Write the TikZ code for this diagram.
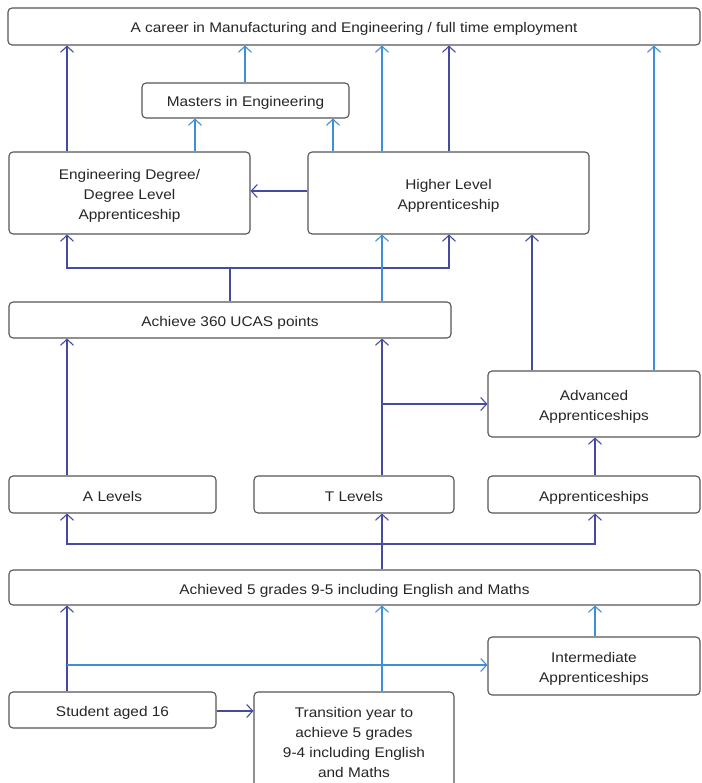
\documentclass[tikz,border=0pt]{standalone}
\usepackage{fontspec}
\setmainfont{Liberation Sans}[FakeStretch=1.1]
\usetikzlibrary{arrows.meta}
\definecolor{dkblue}{HTML}{454C9E}
\definecolor{ltblue}{HTML}{3F8ED8}
\definecolor{boxline}{HTML}{555555}
\definecolor{txt}{HTML}{262626}
\begin{document}
\begin{tikzpicture}[x=1pt,y=-1pt,
  box/.style={draw=boxline,line width=1.1pt,rounded corners=4pt,fill=white,
    inner sep=0pt,text=txt,
    font=\fontsize{14}{20}\selectfont},
  conn/.style={line width=1.1pt,-{Straight Barb[length=6pt,width=13pt,line width=1.1pt]}},
  dk/.style={conn,draw=dkblue},
  lt/.style={conn,draw=ltblue},
  dkl/.style={line width=1.1pt,draw=dkblue}]
\useasboundingbox (0,0) rectangle (701,783);
% boxes: name, centre x, centre y, width, height, text
\newcommand{\mkbox}[6]{\node[box,minimum width=#4pt,minimum height=#5pt] (#1) at (#2,#3)
  {\raisebox{-2.5pt}[\height][\depth]{\begin{tabular}{@{}c@{}}#6\end{tabular}}};}
\mkbox{career}{354}{26.5}{692}{37}{A career in Manufacturing and Engineering / full time employment}
\mkbox{masters}{245.5}{100.5}{207}{35}{Masters in Engineering}
\mkbox{eng}{129.5}{193}{241}{82}{Engineering Degree/\\Degree Level\\Apprenticeship}
\mkbox{higher}{448.5}{193}{281}{82}{Higher Level\\Apprenticeship}
\mkbox{ucas}{230}{320}{442}{36}{Achieve 360 UCAS points}
\mkbox{advanced}{594}{404}{212}{66}{Advanced\\Apprenticeships}
\mkbox{alevels}{112.5}{494.5}{207}{37}{A Levels}
\mkbox{tlevels}{354}{494.5}{200}{37}{T Levels}
\mkbox{appr}{594}{494.5}{212}{37}{Apprenticeships}
\mkbox{five}{354.5}{587.5}{691}{35}{Achieved 5 grades 9-5 including English and Maths}
\mkbox{inter}{594}{666}{212}{58}{Intermediate\\Apprenticeships}
\mkbox{student}{112.5}{710}{207}{36}{Student aged 16}
\mkbox{trans}{354}{741}{200}{98}{Transition year to\\achieve 5 grades\\9-4 including English\\and Maths}
% column / row coordinates
\coordinate (c67) at (67,0);
\coordinate (c195) at (195,0);
\coordinate (c230) at (230,0);
\coordinate (c245) at (245,0);
\coordinate (c333) at (333,0);
\coordinate (c382) at (382,0);
\coordinate (c449) at (449,0);
\coordinate (c532) at (532,0);
\coordinate (c595) at (595,0);
\coordinate (c654) at (654,0);
\coordinate (r191) at (0,191);
\coordinate (r268) at (0,268);
\coordinate (r404) at (0,404);
\coordinate (r544) at (0,544);
\coordinate (r665) at (0,665);
\coordinate (r711) at (0,711);
\coordinate (jA) at (c230 |- r268);
\coordinate (jB) at (c382 |- r544);
\coordinate (jC) at (c67 |- r665);
\coordinate (jD) at (c382 |- r404);
% to career
\draw[dk] (eng.north -| c67) -- (career.south -| c67);
\draw[lt] (masters.north -| c245) -- (career.south -| c245);
\draw[lt] (higher.north -| c382) -- (career.south -| c382);
\draw[dk] (higher.north -| c449) -- (career.south -| c449);
\draw[lt] (advanced.north -| c654) -- (career.south -| c654);
% to masters
\draw[lt] (eng.north -| c195) -- (masters.south -| c195);
\draw[lt] (higher.north -| c333) -- (masters.south -| c333);
% higher to eng
\draw[dk] (higher.west |- r191) -- (eng.east |- r191);
% ucas up
\draw[dkl] (ucas.north -| c230) -- (jA);
\draw[dk] (jA) -| (eng.south -| c67);
\draw[dk] (jA) -| (higher.south -| c449);
\draw[lt] (ucas.north -| c382) -- (higher.south -| c382);
\draw[dk] (advanced.north -| c532) -- (higher.south -| c532);
% level 3
\draw[dk] (alevels.north -| c67) -- (ucas.south -| c67);
\draw[dk] (tlevels.north -| c382) -- (ucas.south -| c382);
\draw[dk] (jD) -- (advanced.west |- r404);
\draw[dk] (appr.north -| c595) -- (advanced.south -| c595);
% from five
\draw[dk] (five.north -| c382) -- (tlevels.south -| c382);
\draw[dk] (jB) -| (alevels.south -| c67);
\draw[dk] (jB) -| (appr.south -| c595);
% bottom
\draw[dk] (student.north -| c67) -- (five.south -| c67);
\draw[lt] (jC) -- (inter.west |- r665);
\draw[lt] (trans.north -| c382) -- (five.south -| c382);
\draw[lt] (inter.north -| c595) -- (five.south -| c595);
\draw[dk] (student.east |- r711) -- (trans.west |- r711);
\end{tikzpicture}
\end{document}
